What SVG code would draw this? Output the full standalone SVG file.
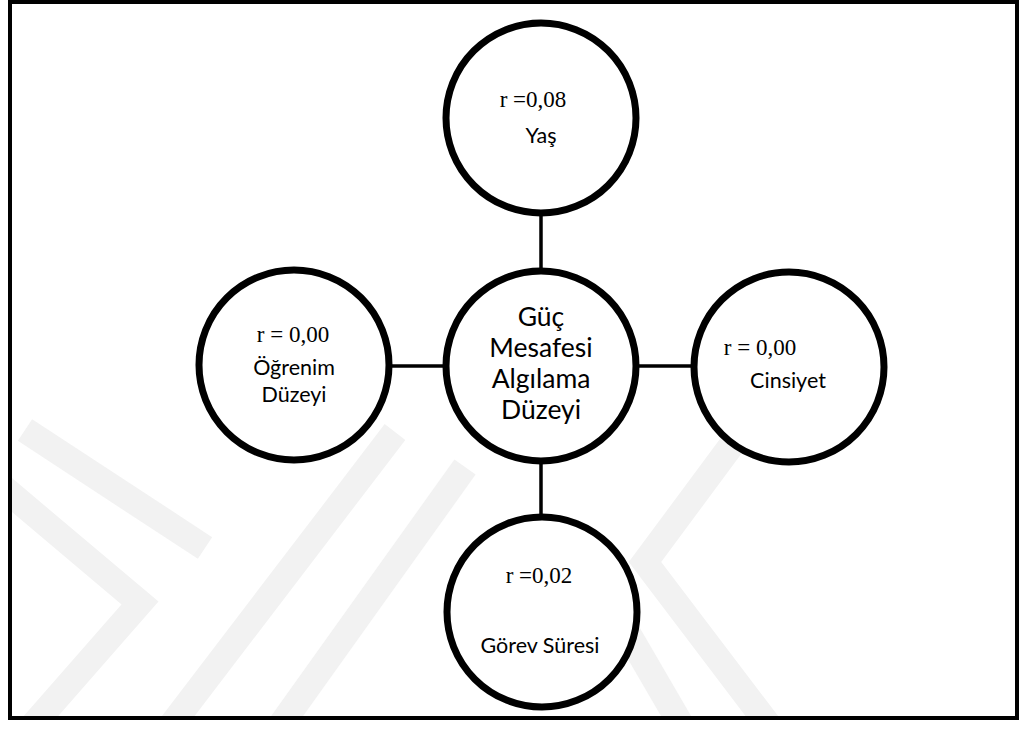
<svg xmlns="http://www.w3.org/2000/svg" width="1022" height="731" viewBox="0 0 1022 731">
<defs>
<style>
.wm{fill:none;stroke:#f2f2f2;stroke-width:26;stroke-linejoin:miter}
.node{fill:#fff;stroke:#000;stroke-width:7}
.conn{stroke:#000;stroke-width:3.5}
.tr{font-family:"Liberation Serif","Times New Roman",serif;font-size:23px;fill:#000;text-anchor:middle}
.cal{font-family:Lato,"Liberation Sans",sans-serif;font-size:21.5px;fill:#000;text-anchor:middle}
.big{font-family:Lato,"Liberation Sans",sans-serif;font-size:26.5px;fill:#000;text-anchor:middle}
</style>
<clipPath id="frameclip"><rect x="12" y="4" width="1003" height="713"/></clipPath>
</defs>
<rect width="1022" height="731" fill="#fff"/>
<g id="watermark" clip-path="url(#frameclip)">
<polyline class="wm" points="25,430 205,548"/>
<polyline class="wm" points="0,485 140,603 20,740"/>
<polyline class="wm" points="395,432 160,740"/>
<polyline class="wm" points="465,467 270,740"/>
<polyline class="wm" points="745,427 645,562 780,740"/>
<polyline class="wm" points="565,525 690,740"/>
</g>
<rect id="frame" x="10" y="2" width="1007" height="716" fill="none" stroke="#000" stroke-width="4"/>
<g id="connectors">
<line class="conn" x1="541" y1="214" x2="541" y2="270"/>
<line class="conn" x1="541" y1="462" x2="541" y2="516"/>
<line class="conn" x1="390" y1="366" x2="446" y2="366"/>
<line class="conn" x1="636" y1="366" x2="693" y2="366"/>
</g>
<g id="node-yas">
<circle class="node" cx="541" cy="118" r="95"/>
<text class="tr" x="533" y="107">r =0,08</text>
<text class="cal" x="541" y="143">Yaş</text>
</g>
<g id="node-center">
<circle class="node" cx="541" cy="366" r="95"/>
<text class="big" x="541" y="326">Güç</text>
<text class="big" x="541" y="357">Mesafesi</text>
<text class="big" x="541" y="388">Algılama</text>
<text class="big" x="541" y="419">Düzeyi</text>
</g>
<g id="node-ogrenim">
<circle class="node" cx="294" cy="365" r="95"/>
<text class="tr" x="293" y="342">r = 0,00</text>
<text class="cal" x="294" y="375">Öğrenim</text>
<text class="cal" x="294" y="402">Düzeyi</text>
</g>
<g id="node-cinsiyet">
<circle class="node" cx="789" cy="367" r="95"/>
<text class="tr" x="760" y="355">r = 0,00</text>
<text class="cal" x="788" y="388">Cinsiyet</text>
</g>
<g id="node-gorev">
<circle class="node" cx="542" cy="612" r="95"/>
<text class="tr" x="539" y="583">r =0,02</text>
<text class="cal" x="540" y="653">Görev Süresi</text>
</g>
</svg>
